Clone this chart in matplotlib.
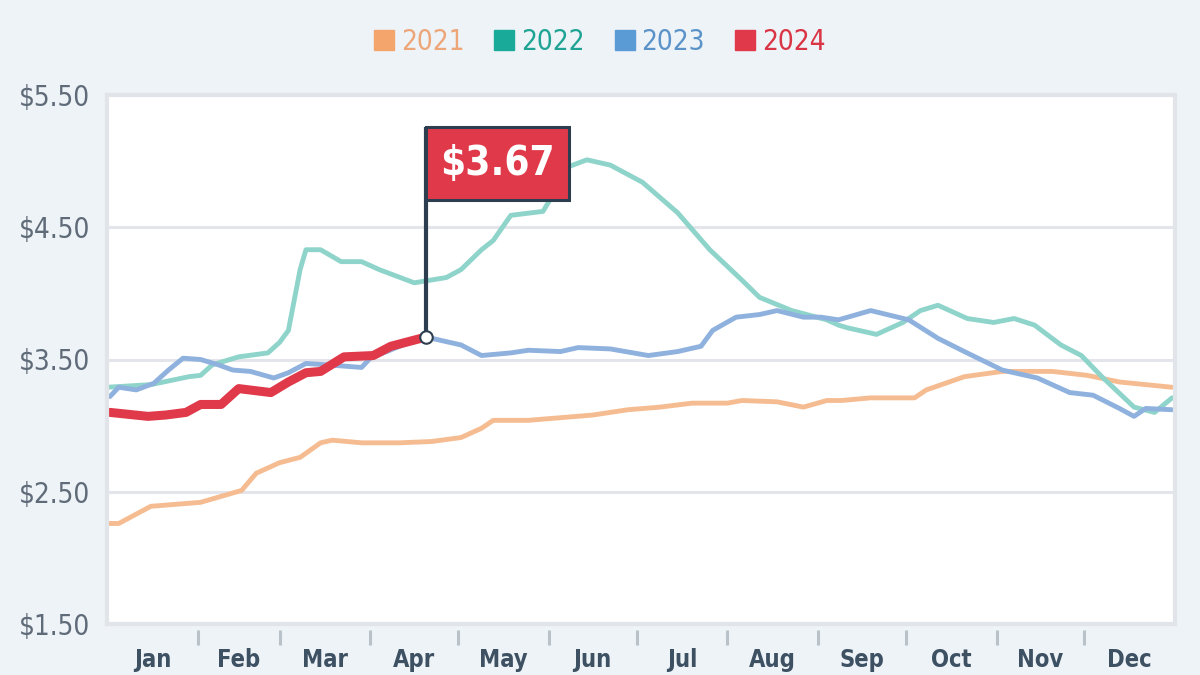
import matplotlib
matplotlib.use("Agg")
import matplotlib.pyplot as plt
import matplotlib.transforms as mtransforms
from matplotlib import font_manager as fm
from matplotlib.patches import Rectangle
from matplotlib.lines import Line2D

# ---------------- data ----------------
months = ["Jan", "Feb", "Mar", "Apr", "May", "Jun", "Jul", "Aug", "Sep", "Oct", "Nov", "Dec"]
month_days = [31, 28, 31, 30, 31, 30, 31, 31, 30, 31, 30, 31]
years = ["2021", "2022", "2023", "2024"]

days_2021 = [0, 4, 15, 32, 46, 51, 59, 66, 73, 77, 87, 100, 111, 121, 128, 132, 144, 155, 166,
             178, 189, 200, 212, 217, 229, 238, 246, 251, 261, 276, 280, 293, 306, 323, 335, 346, 364]
price_2021 = [2.26, 2.26, 2.39, 2.42, 2.51, 2.64, 2.72, 2.76, 2.87, 2.89, 2.87, 2.87, 2.88, 2.91,
              2.98, 3.04, 3.04, 3.06, 3.08, 3.12, 3.14, 3.17, 3.17, 3.19, 3.18, 3.14, 3.19, 3.19,
              3.21, 3.21, 3.27, 3.37, 3.41, 3.41, 3.38, 3.33, 3.29]

days_2022 = [0, 15, 28, 32, 36, 45, 55, 59, 62, 66, 68, 73, 80, 87, 93, 105, 116, 121, 128, 132,
             138, 149, 152, 158, 164, 172, 183, 195, 206, 217, 223, 234, 246, 250, 253, 263, 272,
             278, 284, 294, 303, 310, 317, 326, 333, 340, 351, 358, 364]
price_2022 = [3.29, 3.31, 3.37, 3.38, 3.46, 3.52, 3.55, 3.63, 3.72, 4.18, 4.33, 4.33, 4.24, 4.24,
              4.18, 4.08, 4.12, 4.18, 4.33, 4.40, 4.59, 4.62, 4.73, 4.96, 5.01, 4.97, 4.84, 4.61,
              4.33, 4.10, 3.97, 3.87, 3.80, 3.76, 3.74, 3.69, 3.78, 3.87, 3.91, 3.81, 3.78, 3.81,
              3.76, 3.61, 3.53, 3.37, 3.14, 3.10, 3.21]

days_2023 = [1, 4, 10, 16, 21, 26, 32, 38, 43, 49, 57, 62, 68, 75, 87, 90, 100, 109, 121, 128,
             138, 144, 155, 161, 172, 185, 195, 203, 207, 215, 223, 229, 238, 244, 250, 261, 274,
             284, 293, 306, 318, 329, 337, 346, 351, 355, 364]
price_2023 = [3.22, 3.29, 3.27, 3.32, 3.42, 3.51, 3.50, 3.46, 3.42, 3.41, 3.36, 3.40, 3.47, 3.46,
              3.44, 3.51, 3.60, 3.67, 3.61, 3.53, 3.55, 3.57, 3.56, 3.59, 3.58, 3.53, 3.56, 3.60,
              3.72, 3.82, 3.84, 3.87, 3.82, 3.82, 3.80, 3.87, 3.80, 3.66, 3.56, 3.42, 3.36, 3.25,
              3.23, 3.13, 3.07, 3.13, 3.12]

days_2024 = [1, 14, 20, 27, 32, 39, 45, 56, 62, 68, 73, 81, 91, 97, 109]
price_2024 = [3.10, 3.07, 3.08, 3.10, 3.16, 3.16, 3.28, 3.25, 3.33, 3.40, 3.41, 3.52, 3.53, 3.60, 3.67]

y_ticks = [1.5, 2.5, 3.5, 4.5, 5.5]

# ---------------- style ----------------
bg = "#eef3f8"
line_colors = ["#f6bc91", "#8fd4ca", "#8fb1de", "#e0394a"]
legend_marker_colors = ["#f4a56c", "#1aaa9a", "#5b9bd5", "#e0394a"]
legend_text_colors = ["#eda679", "#1fa394", "#5b93c9", "#d93545"]
widths = [3.5, 3.5, 3.5, 6.5]
navy = "#2d3e50"

# prefer a condensed face if one is installed
cond = fm.FontProperties(family="DejaVu Sans", stretch="condensed")
cond_path = fm.findfont(cond, fallback_to_default=True)
HAS_COND = "ondensed" in cond_path
STRETCH = "condensed" if HAS_COND else "normal"
k = 1.0 if HAS_COND else 0.82

plt.rcParams["font.family"] = ["DejaVu Sans"]
plt.rcParams["font.stretch"] = STRETCH

fig = plt.figure(figsize=(12, 6.75), dpi=100, facecolor=bg)
ax = fig.add_axes([107 / 1200, 1 - 624 / 675, (1175 - 107) / 1200, (624 - 95) / 675])
ax.set_facecolor("white")

series_days = [days_2021, days_2022, days_2023, days_2024]
series_price = [price_2021, price_2022, price_2023, price_2024]
for i, (d, p) in enumerate(zip(series_days, series_price)):
    ax.plot(d, p, color=line_colors[i], lw=widths[i], solid_capstyle="round",
            solid_joinstyle="round", zorder=3 + i)

ax.set_xlim(0, 365)
ax.set_ylim(y_ticks[0], y_ticks[-1])

for s in ax.spines.values():
    s.set_color("#e1e5ea")
    s.set_linewidth(3.0)
    s.set_zorder(10)

ax.set_yticks(y_ticks)
ax.set_yticklabels([r"\$%.2f" % v for v in y_ticks], fontsize=20 * k, color="#5f6b78",
                   fontstretch=STRETCH)
ax.tick_params(axis="y", length=0, pad=12)
ax.yaxis.grid(True, color="#e3e5ea", lw=2.2, zorder=1)
ax.set_axisbelow(True)

# month ticks
bounds = [0]
for md in month_days:
    bounds.append(bounds[-1] + md)
mids = [(bounds[i] + bounds[i + 1]) / 2 for i in range(12)]
ax.set_xticks(mids)
ax.set_xticklabels(months, fontsize=17 * k, fontweight="bold", color="#3d5163",
                   fontstretch=STRETCH)
ax.tick_params(axis="x", length=0, pad=17)
btrans = mtransforms.blended_transform_factory(ax.transData, ax.transAxes)
for b in bounds[1:-1]:
    ax.plot([b, b], [-0.011, -0.040], transform=btrans, color="#b9c1c9", lw=2.2,
            clip_on=False, solid_capstyle="butt", zorder=5)

# flag annotation at last 2024 point
xl, yl = days_2024[-1], price_2024[-1]
ftrans = fig.dpi_scale_trans + mtransforms.ScaledTranslation(xl, yl, ax.transData)
ax.plot([0, 0], [0, 2.10], transform=ftrans, color=navy, lw=3.0, clip_on=False,
        solid_capstyle="butt", zorder=12)
rect = Rectangle((0.0, 1.37), 1.43, 0.73, transform=ftrans, facecolor="#e0394a",
                 edgecolor=navy, lw=2.2, zorder=13, clip_on=False)
ax.add_patch(rect)
ax.text(0.72, 1.73, r"\$%.2f" % yl, transform=ftrans, ha="center", va="center",
        fontsize=29 * k, fontweight="bold", color="white", zorder=14, fontstretch=STRETCH)
ax.plot([xl], [yl], marker="o", ms=9, mfc="white", mec=navy, mew=1.5, zorder=15,
        clip_on=False)

# legend
handles = [Line2D([], [], ls="none", marker="s", ms=14.5, mfc=legend_marker_colors[i],
                  mec=legend_marker_colors[i]) for i in range(4)]
leg = fig.legend(handles, years, loc="center", bbox_to_anchor=(0.5, 1 - 42 / 675), ncol=4,
                 frameon=False, handlelength=0.7, handletextpad=0.25,
                 columnspacing=1.1, prop=fm.FontProperties(family="DejaVu Sans",
                                                          size=20 * k, stretch=STRETCH))
for t, c in zip(leg.get_texts(), legend_text_colors):
    t.set_color(c)

fig.savefig("out.png", dpi=100, facecolor=bg)
